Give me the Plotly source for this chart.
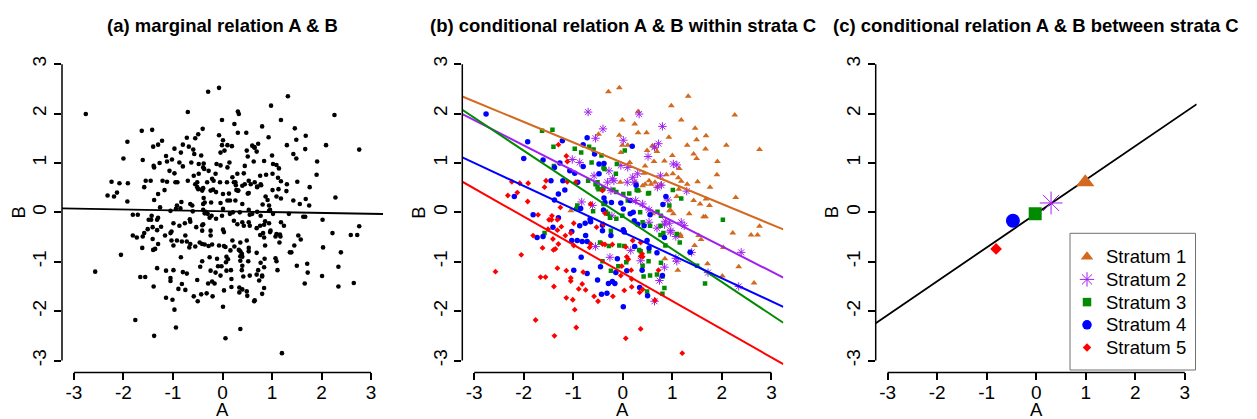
import plotly.graph_objects as go

# ---- data: (A, B) observations by stratum of C ----
stratum1 = [(-0.29, 2.44), (-0.07, 2.52), (1.32, 2.35), (0.98, 2.16), (0.31, 2.04), (1.18, 1.87),
            (0.24, 1.79), (2.26, 1.97), (1.46, 1.70), (0.31, 1.61), (0.48, 1.61), (0.93, 1.52),
            (1.68, 1.55), (1.49, 1.47), (1.30, 1.36), (2.09, 1.36), (1.67, 1.28), (0.60, 1.35),
            (0.65, 1.31), (0.49, 1.25), (0.69, 1.23), (0.10, 1.36), (-0.01, 1.87), (-0.49, 1.58),
            (-0.07, 1.56), (-0.01, 1.36), (-0.04, 1.21), (1.00, 1.15), (1.43, 1.18), (1.49, 1.09),
            (2.76, 1.27), (1.91, 1.03), (0.84, 1.04), (1.14, 0.89), (0.14, 1.01), (0.45, 0.94),
            (1.01, 0.78), (0.88, 0.76), (1.90, 0.76), (1.51, 0.62), (1.18, 0.63), (1.30, 0.57),
            (1.76, 0.51), (0.45, 0.57), (0.53, 0.64), (0.40, 0.54), (0.65, 0.61), (1.13, 0.47),
            (2.28, 0.30), (1.68, 0.27), (1.43, 0.24), (1.56, 0.17), (1.09, 0.32), (1.75, 0.14),
            (0.96, 0.05), (1.34, -0.03), (1.02, -0.03), (0.26, 0.61), (-0.05, 0.61), (1.63, -0.09),
            (1.67, -0.09), (2.76, -0.28), (2.22, -0.42), (2.59, -0.46), (2.72, -0.46), (1.16, -0.45),
            (1.17, -0.49), (1.53, -0.47), (1.58, -0.55), (1.45, -0.67), (2.03, -0.71), (2.34, -1.10),
            (1.71, -1.04), (1.11, -1.17), (0.85, -0.94), (2.01, -1.29), (2.65, -1.43), (-1.05, 0.03),
            (0.63, 1.03), (0.43, 0.79), (0.57, 0.57), (0.77, 0.57), (0.32, 0.44), (0.70, 0.52),
            (1.12, 0.70), (0.60, -0.03), (0.94, 0.03)]

stratum2 = [(-0.70, 2.03), (0.33, 1.99), (0.80, 1.74), (-0.40, 1.69), (-0.55, 1.50), (0.01, 1.46),
            (0.72, 1.39), (0.64, 1.32), (0.51, 1.13), (-1.02, 1.07), (-0.87, 1.01), (1.02, 0.98),
            (1.09, 0.96), (-0.04, 0.95), (-0.28, 0.84), (0.30, 0.78), (0.76, 0.74), (-0.58, 0.74),
            (-0.21, 0.68), (0.23, 0.61), (0.09, 0.61), (0.78, 0.55), (0.70, 0.51), (1.29, 0.43),
            (0.91, 0.25), (-0.83, 0.21), (-0.31, 0.61), (0.26, 0.24), (0.53, 0.05), (0.86, -0.18),
            (0.94, -0.22), (1.24, -0.27), (1.18, -0.20), (0.97, -0.37), (0.69, -0.32), (0.84, -0.25),
            (0.96, -0.40), (0.53, -0.20), (-0.55, -0.69), (-0.26, -0.91), (-0.22, -0.07), (0.16, -0.77),
            (0.36, -0.98), (1.39, -0.81), (2.39, -0.81), (1.07, -0.93), (0.84, -1.11), (1.09, -0.99),
            (0.74, -1.38), (2.34, -1.50), (1.72, -1.22), (0.64, -1.80), (0.10, 0.91), (0.20, 0.71),
            (-0.18, 0.64), (0.40, 0.17), (-0.61, 0.14), (-0.24, 0.44), (1.07, -0.49)]

stratum3 = [(-1.63, 1.65), (-1.42, 1.67), (-1.40, 1.33), (-0.97, 1.29), (-0.84, 1.21), (-0.68, 1.33),
            (-0.59, 1.27), (-0.43, 1.15), (-1.39, 0.94), (-0.63, 1.01), (-0.37, 0.88), (-0.12, 0.98),
            (0.04, 1.25), (-0.70, 0.64), (-0.49, 0.47), (-0.41, 0.47), (-0.14, 0.78), (-0.19, 0.46),
            (-0.60, 0.02), (-0.94, 0.07), (0.01, 0.37), (-0.51, 0.61), (-0.13, 0.41), (0.28, 0.45),
            (0.53, 0.39), (1.01, 0.45), (1.18, 0.28), (-0.92, 0.14), (-0.30, -0.03), (2.02, -0.15),
            (0.35, 0.00), (0.70, 0.01), (0.55, -0.27), (0.76, -0.27), (0.82, -0.42), (0.86, -0.67),
            (1.15, -0.61), (0.53, -0.79), (0.52, -0.99), (0.77, -1.02), (0.69, -1.26), (0.55, -1.28),
            (0.42, -1.30), (0.80, -1.30), (0.84, -1.53), (0.80, -1.65), (0.49, -1.60), (0.07, -1.01),
            (0.03, -0.68), (1.50, -1.08), (1.66, -1.44), (-1.58, -0.42), (-0.46, -0.61), (-0.26, -0.11),
            (-0.24, -0.37), (-0.07, -0.67), (-0.24, -1.18), (-0.41, -0.99), (-0.09, -1.09), (0.36, -0.79),
            (-0.28, -0.68), (-0.39, 0.91), (-0.51, 0.51), (-0.39, 0.49), (0.31, 0.44), (0.51, 0.38),
            (0.13, 0.38), (-0.39, 0.17), (-0.34, 0.01), (-0.13, -0.13), (-0.01, -0.07), (0.10, 0.24),
            (0.40, -0.20), (0.94, 0.14), (1.09, -0.44), (0.76, -0.46), (0.77, -0.07), (0.33, -0.76),
            (0.40, -1.08), (-0.55, 0.57)]

stratum4 = [(-2.76, 1.99), (-1.92, 1.43), (-2.00, 1.09), (-1.61, 1.06), (-1.22, 1.45), (-0.72, 1.51),
            (-0.80, 1.37), (-0.57, 1.18), (-0.48, 0.98), (-0.80, 0.93), (0.19, 1.34), (-1.38, 0.91),
            (-1.07, 0.84), (-0.97, 0.79), (-0.91, 0.61), (-1.45, 0.64), (-1.21, 0.64), (-1.17, 0.45),
            (-1.30, 0.37), (-2.19, 0.32), (-1.38, 0.25), (-1.27, 1.00), (-0.38, 0.99), (0.27, 0.55),
            (0.87, 0.32), (0.81, 0.16), (-0.04, 0.19), (0.55, -0.05), (-0.38, 0.29), (-0.36, 0.20),
            (-0.85, 0.08), (-0.66, -0.14), (-0.76, -0.22), (-1.81, -0.05), (-1.73, -0.51), (-1.61, -0.49),
            (-1.41, -0.30), (-1.30, -0.11), (-0.92, -0.57), (-0.82, -0.59), (-0.72, -0.59), (-0.87, -0.27),
            (-1.03, -0.57), (-0.75, -0.47), (-0.65, -0.19), (-0.41, -0.26), (-0.24, -0.47), (0.01, -0.35),
            (0.24, -0.69), (0.49, -0.57), (0.69, -0.82), (0.84, -0.51), (1.36, -0.81), (-0.84, -0.91),
            (-0.99, -1.17), (-0.72, -1.24), (-0.51, -1.37), (-0.45, -1.10), (-0.29, -1.44), (-0.16, -1.44),
            (-0.21, -1.40), (0.39, -1.17), (0.34, -1.52), (0.50, -1.69), (-0.43, -1.66), (-0.32, -1.64),
            (0.01, -1.91), (0.53, -0.72), (-0.11, -0.94), (0.08, -1.18), (0.80, -1.28), (0.03, -0.40),
            (0.21, 0.00), (0.43, -0.27), (-0.23, 0.20), (-0.48, 0.78), (0.01, 0.07), (0.15, -0.03),
            (0.23, -0.17), (0.30, -0.24), (-0.39, 0.05), (-1.03, -0.39), (-0.41, -0.37), (-0.14, -1.22),
            (0.15, 0.24)]

stratum5 = [(-1.71, -0.05), (-1.43, -0.07), (-1.24, -0.29), (-1.51, -0.34), (-1.81, -0.47), (-1.32, -0.36),
            (-1.41, -0.54), (-1.05, -0.42), (-1.16, -0.47), (-1.62, -0.72), (-1.30, -0.64), (-1.40, -0.76),
            (-1.36, -0.74), (-2.05, -0.86), (-2.57, -1.20), (-1.66, -1.31), (-1.56, -1.31), (-1.32, -1.13),
            (-1.14, -1.18), (-1.05, -1.33), (-1.05, -1.39), (-1.39, -1.50), (-1.14, -1.73), (-1.01, -1.77),
            (-0.97, -1.97), (-1.76, -2.18), (-0.94, -2.33), (-1.38, -2.50), (-0.80, -1.21), (-0.75, -1.57),
            (-0.89, -1.55), (-0.82, -1.45), (-0.58, -1.70), (-0.50, -1.80), (-0.20, -1.70), (0.06, -2.55),
            (-1.44, -0.15), (-0.99, -0.22), (-0.99, -0.67), (-0.67, -0.71), (-0.36, -0.65), (-0.21, -0.65),
            (0.03, -1.58), (-2.32, 0.34), (-2.13, 0.40), (-1.91, 0.59), (-2.08, 0.59), (-2.24, 0.62),
            (-1.55, 0.64), (-1.58, 0.51), (-1.12, 1.03), (-1.26, 0.10), (-0.65, 0.17), (-1.12, 0.62),
            (-0.41, 0.44), (-1.30, 1.37), (-1.92, 0.22), (-1.49, -0.15), (0.39, -0.84), (0.36, -0.89),
            (0.72, -1.17), (0.34, -1.62), (0.36, -2.36), (1.20, -2.85), (0.08, -0.90), (0.18, -1.35),
            (0.36, -0.61), (0.40, -1.56), (-0.04, -1.28), (-0.53, -0.30), (-0.39, -0.24), (0.20, -0.57),
            (0.06, -0.70), (-0.65, -0.64), (-0.41, -0.64), (0.65, -1.78), (0.18, -1.51), (0.17, -1.17),
            (-0.02, -1.09), (0.11, -0.95), (-1.14, 1.14), (-1.32, -0.15), (-0.95, 0.61), (-0.36, -0.02),
            (0.40, -0.90)]

strata = [stratum1, stratum2, stratum3, stratum4, stratum5]
stratum_names = ["Stratum 1", "Stratum 2", "Stratum 3", "Stratum 4", "Stratum 5"]

# fitted lines as (intercept, slope)
marginal_fit = (0.023, -0.0175)
within_fits = [(1.00, -0.415), (0.335, -0.511), (-0.08, -0.665), (-0.40, -0.467), (-1.226, -0.57)]
stratum_means = [(0.99, 0.61), (0.30, 0.19), (-0.02, -0.03), (-0.47, -0.17), (-0.81, -0.74)]
between_fit = (-0.027, 0.684)

tick_values = [-3, -2, -1, 0, 1, 2, 3]
tick_labels = ["-3", "-2", "-1", "0", "1", "2", "3"]
panel_titles = ["(a) marginal relation A & B",
                "(b) conditional relation A & B within strata C",
                "(c) conditional relation A & B between strata C"]

# ---- styling ----
W, H = 1257, 419
FONT = "Liberation Sans, Arial, sans-serif"
colors = ["#D2691E", "#A020F0", "#008B00", "#0000FF", "#FF0000"]
symbols = ["triangle-up", "asterisk-open", "square", "circle", "diamond"]
small_sizes = [6, 7, 4.5, 5.5, 4.5]
big_sizes = [16, 19, 13, 14, 9]
key_sizes = [11, 12, 8.5, 9.5, 6.5]
axis_range = [-3.24, 3.24]
panel_px = [(62.0, 383.0), (462.3, 783.3), (875.7, 1196.7)]
plot_top, plot_bottom = 52.3, 372.4

# legend box geometry (pixels from top-left)
key_box = (1070.0, 233.3, 1195.5, 370.0)
key_rows = [256.7, 279.4, 302.1, 324.8, 347.5]
key_symbol_x, key_text_x = 1087.0, 1104.0

fig = go.Figure()


def fit_line(fit):
    a0, b1 = fit
    xs = list(axis_range)
    return xs, [a0 + b1 * x for x in xs]


def marker(col, sym, size):
    mk = dict(color=col, size=size, symbol=sym)
    mk["line"] = dict(color=col, width=1) if sym.endswith("open") else dict(width=0)
    return mk


# panel (a): all observations in black with marginal fit
all_a = [p[0] for s in strata for p in s]
all_b = [p[1] for s in strata for p in s]
fig.add_trace(go.Scatter(x=all_a, y=all_b, mode="markers", xaxis="x", yaxis="y",
                         marker=dict(color="black", size=4.6, symbol="circle", line=dict(width=0)),
                         showlegend=False, hoverinfo="skip"))
lx, ly = fit_line(marginal_fit)
fig.add_trace(go.Scatter(x=lx, y=ly, mode="lines", xaxis="x", yaxis="y",
                         line=dict(color="black", width=1.8), showlegend=False))

# panel (b): observations coloured by stratum with within-stratum fits
for s, col, sym, sz in zip(strata, colors, symbols, small_sizes):
    fig.add_trace(go.Scatter(x=[p[0] for p in s], y=[p[1] for p in s], mode="markers",
                             xaxis="x2", yaxis="y2", marker=marker(col, sym, sz),
                             showlegend=False, hoverinfo="skip"))
for fit, col in zip(within_fits, colors):
    lx, ly = fit_line(fit)
    fig.add_trace(go.Scatter(x=lx, y=ly, mode="lines", xaxis="x2", yaxis="y2",
                             line=dict(color=col, width=2), showlegend=False))

# panel (c): stratum means with between-strata fit
lx, ly = fit_line(between_fit)
fig.add_trace(go.Scatter(x=lx, y=ly, mode="lines", xaxis="x3", yaxis="y3",
                         line=dict(color="black", width=1.8), showlegend=False))
for m, col, sym, sz, name in zip(stratum_means, colors, symbols, big_sizes, stratum_names):
    fig.add_trace(go.Scatter(x=[m[0]], y=[m[1]], mode="markers", xaxis="x3", yaxis="y3",
                             marker=marker(col, sym, sz), name=name, showlegend=False))

# legend keys on a transparent full-figure pixel overlay
for yk, col, sym, sz in zip(key_rows, colors, symbols, key_sizes):
    fig.add_trace(go.Scatter(x=[key_symbol_x], y=[yk], mode="markers", xaxis="x4", yaxis="y4",
                             marker=marker(col, sym, sz), showlegend=False, hoverinfo="skip",
                             cliponaxis=False))

layout_axes = {}
shapes = []
annotations = []
ydom = [(H - plot_bottom) / H, (H - plot_top) / H]
for i, (x0, x1) in enumerate(panel_px):
    k = "" if i == 0 else str(i + 1)
    common = dict(range=axis_range, showgrid=False, zeroline=False, showline=False,
                  ticks="outside", ticklen=7, tickwidth=1.5, tickcolor="black",
                  tickvals=tick_values, ticktext=tick_labels,
                  tickfont=dict(family=FONT, size=19, color="black"), fixedrange=True)
    layout_axes["xaxis" + k] = dict(common, domain=[x0 / W, x1 / W], anchor="y" + k,
                                    ticklabelstandoff=-4)
    layout_axes["yaxis" + k] = dict(common, domain=ydom, anchor="x" + k, tickangle=-90)
    # axis lines spanning only the labelled ticks
    shapes.append(dict(type="line", xref="x" + k, yref="y" + k + " domain",
                       x0=min(tick_values), x1=max(tick_values), y0=0, y1=0,
                       line=dict(color="black", width=1.5)))
    shapes.append(dict(type="line", xref="x" + k + " domain", yref="y" + k,
                       x0=0, x1=0, y0=min(tick_values), y1=max(tick_values),
                       line=dict(color="black", width=1.5)))
    cx = (x0 + x1) / 2 / W
    annotations.append(dict(text="<b>" + panel_titles[i] + "</b>", x=cx, y=(H - 25) / H,
                            xref="paper", yref="paper", showarrow=False, xanchor="center",
                            yanchor="middle", font=dict(family=FONT, size=18.5, color="black")))
    annotations.append(dict(text="A", x=cx, y=0, xref="paper", yref="paper",
                            showarrow=False, xanchor="center", yanchor="bottom",
                            height=15, valign="middle",
                            font=dict(family=FONT, size=18.5, color="black")))
    annotations.append(dict(text="B", x=(x0 - 44) / W, y=(H - 212.5) / H, xref="paper",
                            yref="paper", showarrow=False, xanchor="center", yanchor="middle",
                            textangle=-90, font=dict(family=FONT, size=18.5, color="black")))

# overlay axes in pixel units for the legend keys
layout_axes["xaxis4"] = dict(domain=[0, 1], range=[0, W], visible=False, anchor="y4", fixedrange=True)
layout_axes["yaxis4"] = dict(domain=[0, 1], range=[H, 0], visible=False, anchor="x4", fixedrange=True)

# legend frame and labels
bx0, by0, bx1, by1 = key_box
shapes.append(dict(type="rect", xref="paper", yref="paper", x0=bx0 / W, x1=bx1 / W,
                   y0=(H - by1) / H, y1=(H - by0) / H, line=dict(color="#707070", width=1),
                   fillcolor="white", layer="below"))
for yk, name in zip(key_rows, stratum_names):
    annotations.append(dict(text=name, x=key_text_x / W, y=(H - yk) / H, xref="paper",
                            yref="paper", showarrow=False, xanchor="left", yanchor="middle",
                            font=dict(family=FONT, size=18.5, color="black")))

fig.update_layout(
    width=W, height=H, margin=dict(l=0, r=0, t=0, b=0),
    paper_bgcolor="white", plot_bgcolor="rgba(0,0,0,0)",
    font=dict(family=FONT, size=18, color="black"),
    shapes=shapes, annotations=annotations, showlegend=False,
    **layout_axes,
)

fig.write_html("out.html")
